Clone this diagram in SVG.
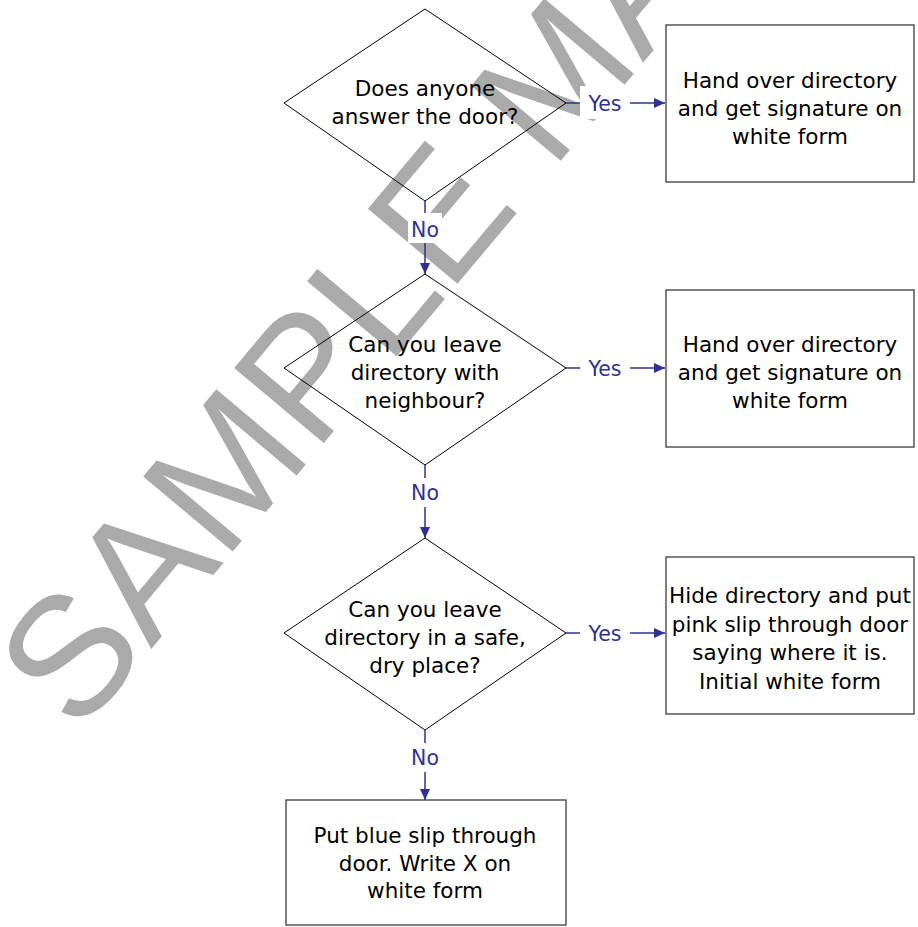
<svg xmlns="http://www.w3.org/2000/svg" width="918" height="927" viewBox="0 0 918 927">
  <style>
    .bg { fill: #ffffff; }
    .mark { fill: #aaaaaa; font-family: "Liberation Sans", Arial, sans-serif; font-size: 170px; }
    .decision { fill: none; stroke: #000000; stroke-width: 1; }
    .box { fill: #ffffff; stroke: #3c3c3c; stroke-width: 1.3; }
    .txt { fill: #000000; font-family: "DejaVu Sans", Verdana, sans-serif; font-size: 21.5px; text-anchor: middle; }
    .flow { fill: none; stroke: #2e3192; stroke-width: 1.5; }
    .lblbg { fill: #ffffff; }
    .lbl { fill: #2e3192; font-family: "DejaVu Sans", Verdana, sans-serif; font-size: 20.5px; text-anchor: middle; }
  </style>
  <defs>
    <marker id="arrow" viewBox="0 0 11 10" refX="11" refY="5" markerWidth="11" markerHeight="10" markerUnits="userSpaceOnUse" orient="auto">
      <path d="M0,0 L11,5 L0,10 Z" fill="#2e3192"/>
    </marker>
  </defs>

  <rect class="bg" x="0" y="0" width="918" height="927"/>

  <!-- watermark -->
  <text class="mark" transform="translate(78,736) rotate(-50)">SAMPLE MA</text>

  <!-- decisions -->
  <g id="q-answer">
    <polygon class="decision" points="425,9 566,103 425,201 284,103"/>
    <text class="txt" x="425" y="96">Does anyone</text>
    <text class="txt" x="425" y="124">answer the door?</text>
  </g>
  <g id="q-neighbour">
    <polygon class="decision" points="425,274 566,368 425,465 284,368"/>
    <text class="txt" x="425" y="352">Can you leave</text>
    <text class="txt" x="425" y="380">directory with</text>
    <text class="txt" x="425" y="408">neighbour?</text>
  </g>
  <g id="q-safe-place">
    <polygon class="decision" points="425,538 566,633 425,730 284,633"/>
    <text class="txt" x="425" y="617">Can you leave</text>
    <text class="txt" x="425" y="645">directory in a safe,</text>
    <text class="txt" x="425" y="673">dry place?</text>
  </g>

  <!-- actions -->
  <g id="a-hand-over-1">
    <rect class="box" x="666" y="25" width="248" height="157"/>
    <text class="txt" x="790" y="88">Hand over directory</text>
    <text class="txt" x="790" y="116">and get signature on</text>
    <text class="txt" x="790" y="144">white form</text>
  </g>
  <g id="a-hand-over-2">
    <rect class="box" x="666" y="290" width="248" height="157"/>
    <text class="txt" x="790" y="352">Hand over directory</text>
    <text class="txt" x="790" y="380">and get signature on</text>
    <text class="txt" x="790" y="408">white form</text>
  </g>
  <g id="a-hide">
    <rect class="box" x="666" y="557" width="248" height="157"/>
    <text class="txt" x="790" y="603">Hide directory and put</text>
    <text class="txt" x="790" y="632">pink slip through door</text>
    <text class="txt" x="790" y="660">saying where it is.</text>
    <text class="txt" x="790" y="689">Initial white form</text>
  </g>
  <g id="a-blue-slip">
    <rect class="box" x="286" y="800" width="280" height="125"/>
    <text class="txt" x="425" y="843">Put blue slip through</text>
    <text class="txt" x="425" y="871">door. Write X on</text>
    <text class="txt" x="425" y="898">white form</text>
  </g>

  <!-- connectors -->
  <g id="connectors">
    <line class="flow" x1="566" y1="103" x2="665" y2="103" marker-end="url(#arrow)"/>
    <line class="flow" x1="566" y1="368" x2="665" y2="368" marker-end="url(#arrow)"/>
    <line class="flow" x1="566" y1="633" x2="665" y2="633" marker-end="url(#arrow)"/>
    <line class="flow" x1="425" y1="201" x2="425" y2="274" marker-end="url(#arrow)"/>
    <line class="flow" x1="425" y1="465" x2="425" y2="538" marker-end="url(#arrow)"/>
    <line class="flow" x1="425" y1="730" x2="425" y2="800" marker-end="url(#arrow)"/>

    <rect class="lblbg" x="580" y="86" width="50" height="33"/>
    <text class="lbl" x="605" y="111">Yes</text>
    <rect class="lblbg" x="580" y="351" width="50" height="33"/>
    <text class="lbl" x="605" y="376">Yes</text>
    <rect class="lblbg" x="580" y="616" width="50" height="33"/>
    <text class="lbl" x="605" y="641">Yes</text>

    <rect class="lblbg" x="408" y="213" width="34" height="30"/>
    <text class="lbl" x="425" y="237">No</text>
    <rect class="lblbg" x="408" y="478" width="34" height="29"/>
    <text class="lbl" x="425" y="500">No</text>
    <rect class="lblbg" x="408" y="743" width="34" height="29"/>
    <text class="lbl" x="425" y="765">No</text>
  </g>
</svg>
